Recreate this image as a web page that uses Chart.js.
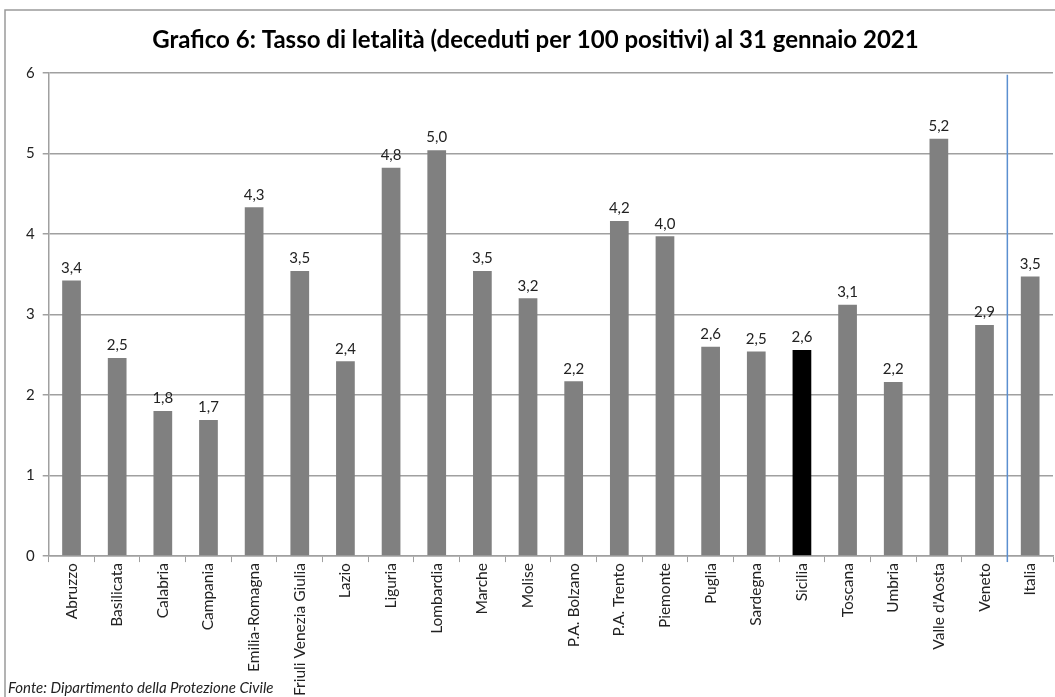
<!DOCTYPE html>
<html>
<head>
<meta charset="utf-8">
<script src="https://cdn.jsdelivr.net/npm/chart.js@4.4.0/dist/chart.umd.min.js"></script>
<style>
  html, body { margin: 0; padding: 0; background: #fff; }
  #wrap { width: 1055px; height: 697px; position: relative; }
</style>
</head>
<body>
<div id="wrap"><canvas id="grafico" width="1055" height="697"></canvas></div>
<script>
// regioni + totale Italia
const regioni = ["Abruzzo", "Basilicata", "Calabria", "Campania", "Emilia-Romagna",
  "Friuli Venezia Giulia", "Lazio", "Liguria", "Lombardia", "Marche", "Molise",
  "P.A. Bolzano", "P.A. Trento", "Piemonte", "Puglia", "Sardegna", "Sicilia",
  "Toscana", "Umbria", "Valle d'Aosta", "Veneto", "Italia"];
// tasso di letalità (deceduti per 100 positivi)
const letalita = [3.42, 2.46, 1.80, 1.69, 4.33, 3.54, 2.42, 4.82, 5.04, 3.54, 3.20,
  2.17, 4.16, 3.97, 2.60, 2.54, 2.56, 3.12, 2.16, 5.18, 2.87, 3.47];
const yTicks = [0, 1, 2, 3, 4, 5, 6];

const colori = regioni.map(r => r === "Sicilia" ? '#000000' : '#808080');
const FONT = 'Lato, "Open Sans", sans-serif';

// etichette valori sopra le barre
const etichette = {
  id: 'etichette',
  afterDatasetsDraw(chart) {
    const ctx = chart.ctx;
    const meta = chart.getDatasetMeta(0);
    ctx.save();
    ctx.font = '15px ' + FONT;
    ctx.fillStyle = '#222';
    ctx.textAlign = 'center';
    ctx.textBaseline = 'bottom';
    meta.data.forEach((bar, i) => {
      ctx.fillText(letalita[i].toFixed(1).replace('.', ','), bar.x, bar.y - 5);
    });
    ctx.restore();
  }
};

// linea blu prima di Italia, bordo e fonte
const extra = {
  id: 'extra',
  afterDraw(chart) {
    const ctx = chart.ctx;
    const x = chart.scales.x.getPixelForValue(regioni.length - 1.5);
    const a = chart.chartArea;
    ctx.save();
    ctx.strokeStyle = '#5b8fd0';
    ctx.lineWidth = 1.5;
    ctx.beginPath();
    ctx.moveTo(x, a.top + 2);
    ctx.lineTo(x, a.bottom + 6);
    ctx.stroke();

    ctx.strokeStyle = '#9a9a9a';
    ctx.lineWidth = 1.5;
    ctx.beginPath();
    ctx.moveTo(5, 700);
    ctx.lineTo(5, 10);
    ctx.lineTo(1060, 10);
    ctx.stroke();

    ctx.font = 'italic 15px ' + FONT;
    ctx.fillStyle = '#222';
    ctx.textAlign = 'left';
    ctx.textBaseline = 'alphabetic';
    ctx.fillText('Fonte: Dipartimento della Protezione Civile', 8, 693);
    ctx.restore();
  }
};

new Chart(document.getElementById('grafico'), {
  type: 'bar',
  data: {
    labels: regioni,
    datasets: [{
      data: letalita,
      backgroundColor: colori,
      barPercentage: 0.41,
      categoryPercentage: 1.0
    }]
  },
  options: {
    responsive: false,
    animation: false,
    layout: { padding: { left: 18, right: 2, top: 18, bottom: 0 } },
    plugins: {
      legend: { display: false },
      tooltip: { enabled: false },
      title: {
        display: true,
        text: 'Grafico 6: Tasso di letalità (deceduti per 100 positivi) al 31 gennaio 2021',
        color: '#000',
        font: { family: FONT, size: 24, weight: 'bold' },
        padding: { top: 8, bottom: 18 }
      }
    },
    scales: {
      x: {
        grid: { display: true, drawOnChartArea: false, offset: true, tickLength: 6, color: '#a0a0a0' },
        border: { color: '#a0a0a0', width: 1.5 },
        ticks: {
          minRotation: 90, maxRotation: 90, autoSkip: false,
          color: '#222', padding: 1,
          font: { family: FONT, size: 15.5 }
        }
      },
      y: {
        min: 0, max: 6,
        afterBuildTicks(axis) { axis.ticks = yTicks.map(v => ({ value: v })); },
        grid: { color: '#a0a0a0', lineWidth: 1.5, tickLength: 6 },
        border: { color: '#a0a0a0', width: 1.5 },
        ticks: {
          color: '#222', padding: 8,
          font: { family: FONT, size: 15 }
        }
      }
    }
  },
  plugins: [etichette, extra]
});
</script>
</body>
</html>
